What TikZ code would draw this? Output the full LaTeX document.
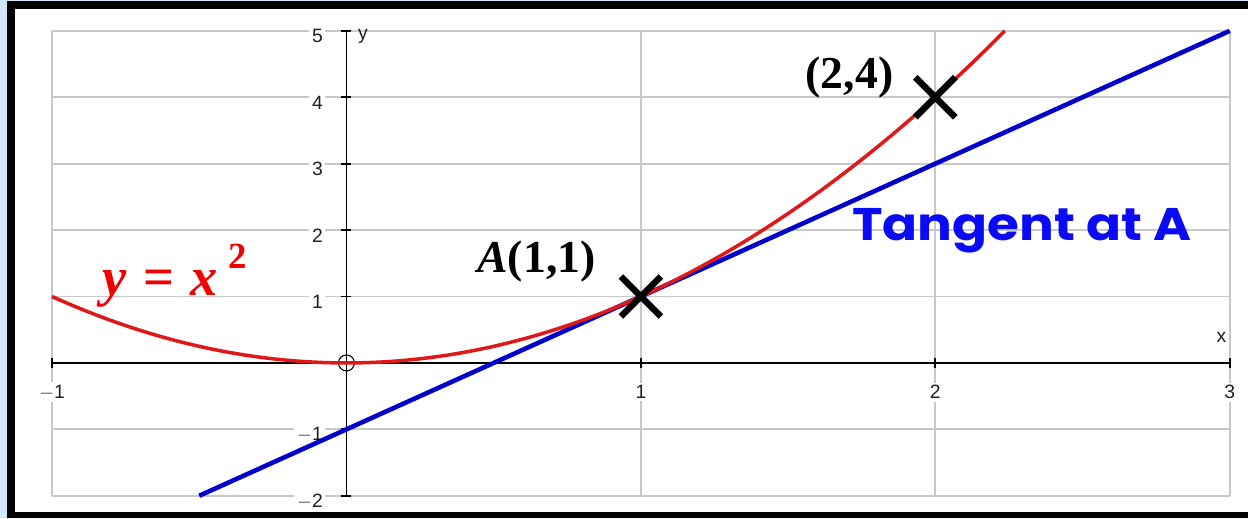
\documentclass[tikz,border=0pt]{standalone}
\usepackage{fontspec}
\usepackage{graphicx}
\setmainfont{Liberation Serif}
\newfontfamily\ticksfont{Liberation Sans}
\newfontfamily\comicfont{Poppins}
\definecolor{lightblue}{HTML}{CFE7FF}
\definecolor{gridgray}{HTML}{C8C8C8}
\definecolor{curvered}{HTML}{E01818}
\definecolor{labelred}{HTML}{F00000}
\definecolor{tanblue}{HTML}{0000CC}
\definecolor{textblue}{HTML}{0A0AF5}
\definecolor{tickgray}{HTML}{202020}
\tikzset{
  gridline/.style={draw=gridgray, line width=1pt},
  axisline/.style={draw=black, line width=1pt},
  ticklabel/.style={font=\ticksfont\fontsize{11}{12}\selectfont, text=tickgray, fill=white, inner sep=1.5pt},
  redcurve/.style={draw=curvered, line width=2pt},
  bluecurve/.style={draw=tanblue, line width=2.6pt},
  crossmark/.style={draw=black, line width=3.7pt},
  biglabel/.style={font=\fontsize{26}{30}\selectfont\bfseries, inner sep=0pt}
}
\begin{document}
\begin{tikzpicture}[x=0.02cm,y=-0.02cm]
\useasboundingbox (0,0) rectangle (1248,518);
\fill[lightblue] (0,0) rectangle (1248,518);
\fill[black] (7,0.5) rectangle (1248,518);
\fill[white] (15,8.5) rectangle (1248,512);
\begin{scope}[shift={(6.93cm,-7.26cm)}, x=5.89cm, y=1.3286cm]
  % grid
  \foreach \i in {-2,-1,1,2,3,4,5} \draw[gridline] (-1,\i) -- (3,\i);
  \foreach \i in {-1,1,2,3} \draw[gridline] (\i,-2) -- (\i,5);
  % tick labels
  \foreach \i/\t in {-2/$-$2,-1/$-$1,1/1,2/2,3/3,4/4,5/5}
    \node[ticklabel, anchor=east] (yl\i) at (-0.07,\i-0.08) {\t};
  \foreach \i/\t in {-1/$-$1,1/1,2/2,3/3}
    \node[ticklabel] (xl\i) at (\i,-0.44) {\t};
  % axes
  \coordinate (ybot) at (0,-2);
  \coordinate (ytop) at (0,5);
  \coordinate (xl) at (-1,0);
  \coordinate (xr) at (3,0);
  \draw[axisline] (ybot) -- (ytop);
  \draw[axisline] (xl) -- (xr);
  \foreach \i in {-2,...,5} \draw[axisline] (-0.017,\i) -- (0.017,\i);
  \foreach \i in {-1,1,2,3} \draw[axisline] (\i,-0.075) -- (\i,0.075);
  \node[font=\ticksfont\fontsize{11}{12}\selectfont, text=tickgray, inner sep=0pt] (ylab) at (0.056,4.92) {y};
  \node[font=\ticksfont\fontsize{11}{12}\selectfont, text=tickgray, inner sep=0pt] (xlab) at (2.972,0.39) {x};
  \coordinate (O) at (0,0);
  \draw[black, line width=0.6pt] (O) circle[radius=0.16cm];
  % curves
  \coordinate (T1) at (-0.5,-2);
  \coordinate (T2) at (3,5);
  \draw[bluecurve] (T1) -- (T2);
  \draw[redcurve] plot[domain=-1:2.2361, samples=120, smooth] (\x,{\x*\x});
  % crosses
  \coordinate (A) at (1,1);
  \coordinate (B) at (2,4);
  \draw[crossmark] (A) ++(-0.4cm,-0.4cm) -- ++(0.8cm,0.8cm);
  \draw[crossmark] (A) ++(-0.4cm,0.4cm) -- ++(0.8cm,-0.8cm);
  \draw[crossmark] (B) ++(-0.4cm,-0.4cm) -- ++(0.8cm,0.8cm);
  \draw[crossmark] (B) ++(-0.4cm,0.4cm) -- ++(0.8cm,-0.8cm);
\end{scope}
\node[biglabel, anchor=base] (lblA) at (536.5,272) {\textit{A}(1,1)};
\node[biglabel, anchor=base] (lblB) at (849.5,88) {(2,4)};
\node[inner sep=0pt, anchor=base west, text=labelred, font=\fontsize{31}{34}\selectfont\bfseries] (eq) at (102,295)
  {\textit{y}\hspace{0.3em}=\hspace{0.3em}\textit{x}\hspace{0.2em}\raisebox{15pt}{\fontsize{21}{21}\selectfont 2}};
\node[inner sep=0pt, anchor=base west, text=textblue, font=\comicfont\bfseries\fontsize{26}{30}\selectfont] (tan) at (852,240) {\scalebox{1.13}[1]{Tangent at A}};
\end{tikzpicture}
\end{document}
